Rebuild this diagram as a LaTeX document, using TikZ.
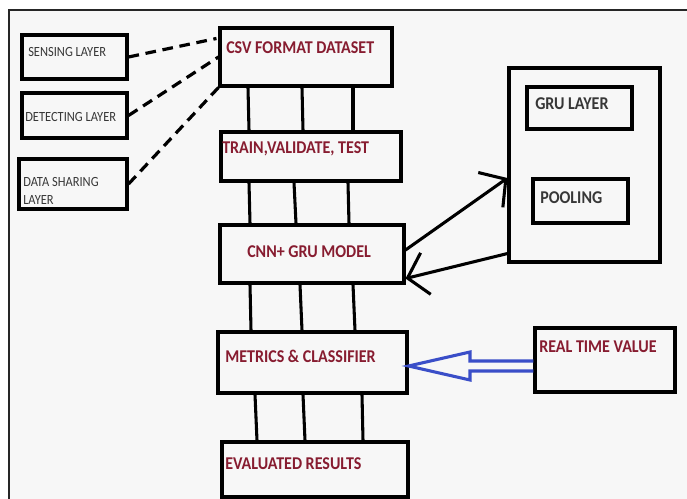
\documentclass[tikz,border=0pt]{standalone}
\usepackage{fontspec}
\setmainfont{Carlito}
\newfontfamily\condfont[FakeStretch=0.89]{Carlito}
\usetikzlibrary{calc,arrows.meta}

\definecolor{lblred}{RGB}{135,28,48}
\definecolor{lblgray}{RGB}{55,55,55}
\definecolor{arrblue}{RGB}{58,78,200}
\definecolor{paper}{RGB}{247,247,247}

\tikzset{
	blk/.style={draw, line width=2.3pt, inner sep=0pt},
	redtxt/.style={anchor=west, inner sep=0pt, text=lblred, font=\condfont\bfseries\fontsize{13.5}{15}\selectfont},
	graytxt/.style={anchor=west, inner sep=0pt, text=lblgray, font=\condfont\fontsize{10.5}{13.5}\selectfont},
	link/.style={line width=2.3pt},
	dashlink/.style={line width=2.4pt, dash pattern=on 8pt off 5pt},
	barb/.style={line width=2.3pt, -{Straight Barb[length=14pt,width=32pt,line width=2.3pt]}}
}

\begin{document}
\begin{tikzpicture}[x=0.75pt,y=0.75pt,yscale=-1,xscale=1]
	\useasboundingbox (0,0) rectangle (687,499);
	\fill[white] (0,0) rectangle (687,499);
	\fill[paper] (9,10) rectangle (687,499);
	\draw[line width=1.6pt, black!85] (687,10) -- (9,10) -- (9,499);

	% input layers
	\node[blk, minimum width={105*0.75pt}, minimum height={44*0.75pt}] (sense) at (74.5,57) {};
	\node[blk, minimum width={105*0.75pt}, minimum height={45*0.75pt}] (detect) at (74.5,115.5) {};
	\node[blk, minimum width={108*0.75pt}, minimum height={50*0.75pt}] (share) at (73,184) {};
	\node[graytxt] (sense-t) at (28,52) {SENSING LAYER};
	\node[graytxt] (detect-t) at (25,117) {DETECTING LAYER};
	\node[graytxt, align=left] (share-t) at (23,191) {DATA SHARING\\LAYER};

	% main pipeline
	\node[blk, minimum width={172*0.75pt}, minimum height={58*0.75pt}] (csv) at (306,57) {};
	\node[blk, minimum width={180*0.75pt}, minimum height={49*0.75pt}] (train) at (311,156.5) {};
	\node[blk, minimum width={184*0.75pt}, minimum height={58*0.75pt}] (cnn) at (312,254) {};
	\node[blk, minimum width={189*0.75pt}, minimum height={61*0.75pt}] (metrics) at (312.5,362.5) {};
	\node[blk, minimum width={186*0.75pt}, minimum height={55*0.75pt}] (eval) at (315,469.5) {};
	\node[redtxt] (csv-t) at (226,48) {CSV FORMAT DATASET};
	\node[redtxt] (train-t) at (222,149) {TRAIN,VALIDATE, TEST};
	\node[redtxt] (cnn-t) at (247,252) {CNN+ GRU MODEL};
	\node[redtxt] (metrics-t) at (225,356) {METRICS \& CLASSIFIER};
	\node[redtxt] (eval-t) at (225,464) {EVALUATED RESULTS};

	% gru block
	\node[blk, minimum width={151*0.75pt}, minimum height={194*0.75pt}] (grubox) at (584.5,165) {};
	\node[blk, minimum width={105*0.75pt}, minimum height={42*0.75pt}] (grul) at (579.5,108) {};
	\node[blk, minimum width={95*0.75pt}, minimum height={44*0.75pt}] (pool) at (580.5,201) {};
	\node[redtxt, text=lblgray] (grul-t) at (535,104) {GRU LAYER};
	\node[redtxt, text=lblgray] (pool-t) at (540,198) {POOLING};

	% real time input
	\node[blk, minimum width={140*0.75pt}, minimum height={64*0.75pt}] (rtv) at (605,360) {};
	\node[redtxt] (rtv-t) at (539,347) {REAL TIME VALUE};

	% dashed feeds
	\draw[dashlink] (sense.east) -- ($(csv.north west)+(-2,12)$);
	\draw[dashlink] (detect.east) -- (csv.west);
	\draw[dashlink] (share.east) -- (csv.south west);

	% parallel links
	\foreach \a/\b in {248/249, 302/303, 353/353}
		\draw[link] (\a,0 |- csv.south) -- (\b,0 |- train.north);
	\foreach \a/\b in {249/250, 294/296, 348/349}
		\draw[link] (\a,0 |- train.south) -- (\b,0 |- cnn.north);
	\foreach \a/\b in {250/251, 300/302, 353/355}
		\draw[link] (\a,0 |- cnn.south) -- (\b,0 |- metrics.north);
	\foreach \a/\b in {255/257, 303/305, 362/363}
		\draw[link] (\a,0 |- metrics.south) -- (\b,0 |- eval.north);

	% to and from the gru block
	\draw[barb] ($(cnn.east)+(0,-4)$) -- ($(grubox.west)+(0,13)$);
	\draw[barb] ($(grubox.south west)+(0,-10)$) -- ($(cnn.south east)+(0,-6)$);

	% hollow blue arrow
	\draw[arrblue, line width=2.3pt, line join=miter]
		(rtv.west |- 0,361) -- (470,361) -- (470,352) -- (metrics.east |- 0,366)
		-- (470,380) -- (470,371) -- (rtv.west |- 0,371);
\end{tikzpicture}
\end{document}
